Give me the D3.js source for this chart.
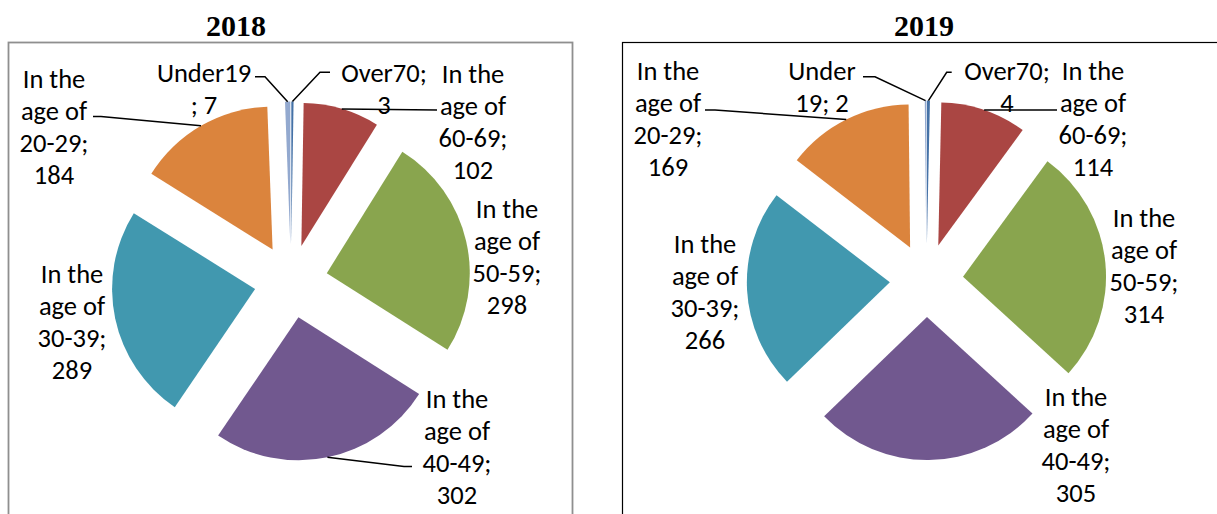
<!DOCTYPE html>
<html><head><meta charset="utf-8">
<script src="https://cdn.jsdelivr.net/npm/d3@7"></script>
<style>
html,body{margin:0;padding:0;background:#fff;}
svg{display:block;}
</style></head>
<body>
<svg id="chart" width="1217" height="514"></svg>
<script>
// ---- data ----
const categories = ["Over70", "In the age of 60-69", "In the age of 50-59", "In the age of 40-49", "In the age of 30-39", "In the age of 20-29", "Under19"];
const values2018 = [3, 102, 298, 302, 289, 184, 7];
const values2019 = [4, 114, 314, 305, 266, 169, 2];
const years = ["2018", "2019"];
const sliceColors = ["#4572A7", "#AA4643", "#89A54E", "#71588F", "#4198AF", "#DB843D", "#93A9CF"];

// label line templates ({v} = value)
const labelLines2018 = [["Over70;", "{v}"], ["In the", "age of", "60-69;", "{v}"], ["In the", "age of", "50-59;", "{v}"], ["In the", "age of", "40-49;", "{v}"], ["In the", "age of", "30-39;", "{v}"], ["In the", "age of", "20-29;", "{v}"], ["Under19", "; {v}"]];
const labelLines2019 = [["Over70;", "{v}"], ["In the", "age of", "60-69;", "{v}"], ["In the", "age of", "50-59;", "{v}"], ["In the", "age of", "40-49;", "{v}"], ["In the", "age of", "30-39;", "{v}"], ["In the", "age of", "20-29;", "{v}"], ["Under", "19; {v}"]];

// ---- layout ----
const R = 143, EXPLODE = 36.7, LINE_H = 32, FONT = 26.5;
const charts = [
  { year: years[0], values: values2018, lines: labelLines2018, cx: 291, cy: 281.3, titleX: 236,
    frame: { x: 8.5, y: 42.5, w: 564, h: 520, stroke: "#8f8f8f", sw: 1.8 },
    labelPos: [[384, 72], [473, 73], [507, 208], [457, 398], [72, 273], [54, 78], [204, 72]],
    leaders: { 0: [[330, 72.3], [320, 72.3]], 1: [[437, 110]], 3: [[412, 466.5], [404, 466.5]], 5: [[93, 116.5], [101, 116.5]], 6: [[255, 76.7], [265, 76.7]] } },
  { year: years[1], values: values2019, lines: labelLines2019, cx: 926.5, cy: 280.3, titleX: 924,
    frame: { x: 622.5, y: 42.5, w: 640, h: 520, stroke: "#000", sw: 1.2 },
    labelPos: [[1007, 70], [1093, 70], [1144, 217], [1076, 396], [705, 243], [668, 70], [822, 70]],
    leaders: { 0: [[951.7, 72.3], [946.7, 72.3]], 1: [[1057, 110]], 5: [[705, 110], [715, 110]], 6: [[863, 76.7], [875, 76.7]] } }
];

const svg = d3.select("#chart");
const pie = d3.pie().sort(null).value(d => d);
const arc = d3.arc().innerRadius(0).outerRadius(R);

charts.forEach(ch => {
  // frame
  svg.append("rect").attr("x", ch.frame.x).attr("y", ch.frame.y)
    .attr("width", ch.frame.w).attr("height", ch.frame.h)
    .attr("fill", "none").attr("stroke", ch.frame.stroke).attr("stroke-width", ch.frame.sw);
  // title
  svg.append("text").attr("x", ch.titleX).attr("y", 36)
    .attr("text-anchor", "middle")
    .style("font-family", "'Liberation Serif','Times New Roman',serif")
    .style("font-weight", "bold").style("font-size", "30px")
    .text(ch.year);

  const g = svg.append("g").attr("transform", `translate(${ch.cx},${ch.cy})`);
  const arcs = pie(ch.values);
  arcs.forEach((a, i) => {
    const mid = (a.startAngle + a.endAngle) / 2;
    const ox = Math.sin(mid) * EXPLODE, oy = -Math.cos(mid) * EXPLODE;
    g.append("path").attr("d", arc(a))
      .attr("transform", `translate(${ox},${oy})`)
      .attr("fill", sliceColors[i]);
  });

  // leader lines
  arcs.forEach((a, i) => {
    const pts = ch.leaders[i];
    if (!pts) return;
    const mid = (a.startAngle + a.endAngle) / 2;
    const end = [ch.cx + Math.sin(mid) * (R + EXPLODE), ch.cy - Math.cos(mid) * (R + EXPLODE)];
    svg.append("path").attr("d", d3.line()(pts.concat([end])))
      .attr("fill", "none").attr("stroke", "#000").attr("stroke-width", 1.5);
  });

  // labels
  arcs.forEach((a, i) => {
    const [lx, ly] = ch.labelPos[i];
    const t = svg.append("text").attr("text-anchor", "middle")
      .style("font-family", "Carlito, Lato, 'Open Sans', sans-serif")
      .style("font-size", FONT + "px").attr("fill", "#000");
    ch.lines[i].forEach((ln, k) => {
      t.append("tspan").attr("x", lx).attr("y", ly + k * LINE_H + FONT * 0.36)
        .text(ln.replace("{v}", ch.values[i]));
    });
  });
});
</script>
</body></html>
